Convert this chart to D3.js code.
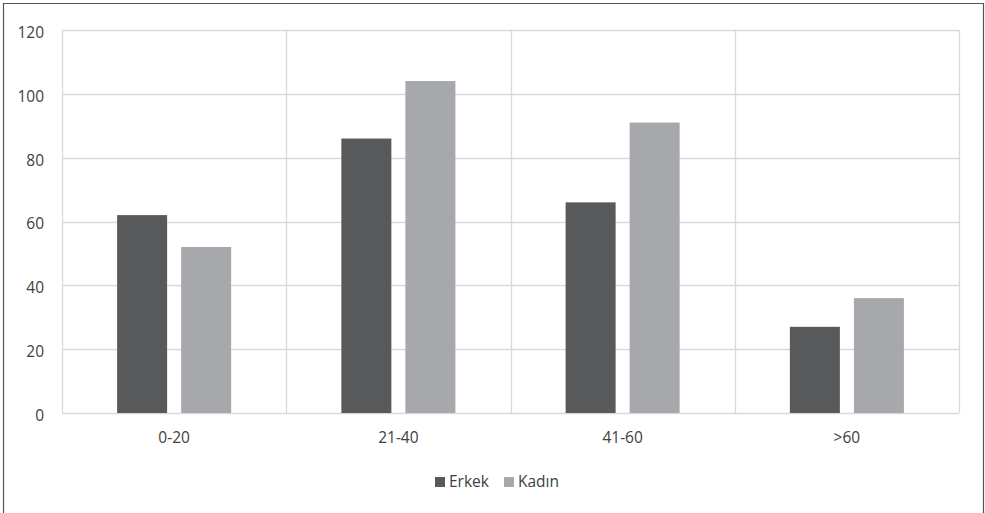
<!DOCTYPE html>
<html><head><meta charset="utf-8">
<script src="https://cdn.jsdelivr.net/npm/d3@7"></script>
<style>body{margin:0;background:#fff}svg{display:block}</style>
</head><body>
<svg id="c" width="985" height="513"></svg>
<script>
const categories = ["0-20", "21-40", "41-60", ">60"];
const seriesNames = ["Erkek", "Kadın"];
const erkek = [62, 86, 66, 27];
const kadin = [52, 104, 91, 36];
const yTicks = [0, 20, 40, 60, 80, 100, 120];
const colors = ["#58595b", "#a7a8ab"];

const svg = d3.select("#c");
const font = "'Open Sans', sans-serif";
const textColor = "#404040";
const fs = 15.5;
const L = 62, R = 959, T = 30, B = 413;

// outer border
svg.append("path").attr("d", "M3.5,520V3.5H983.5V520").attr("fill", "none").attr("stroke", "#555").attr("stroke-width", 1.2);

const x = d3.scaleBand().domain(categories).range([L, R]);
const y = d3.scaleLinear().domain([0, 120]).range([B, T]);

// horizontal gridlines
svg.append("g").selectAll("line").data(yTicks).join("line")
  .attr("x1", L).attr("x2", R)
  .attr("y1", d => Math.round(y(d)) + 0.5).attr("y2", d => Math.round(y(d)) + 0.5)
  .attr("stroke", "#d9d9d9").attr("stroke-width", 1.3);
// vertical gridlines at category boundaries
const bounds = categories.map(c => x(c)).concat([R]);
svg.append("g").selectAll("line").data(bounds).join("line")
  .attr("x1", d => Math.round(d) + 0.5).attr("x2", d => Math.round(d) + 0.5)
  .attr("y1", T).attr("y2", B)
  .attr("stroke", "#d9d9d9").attr("stroke-width", 1.3);

// y axis labels
const yAxis = d3.axisLeft(y).tickValues(yTicks).tickSize(0).tickPadding(0);
const gy = svg.append("g").attr("transform", `translate(${44},2)`).call(yAxis);
gy.select(".domain").remove();
gy.selectAll("text").attr("font-family", font).attr("font-size", fs).attr("fill", textColor).attr("dy", "0.35em");

// x axis labels
const xAxis = d3.axisBottom(x).tickSize(0).tickPadding(0);
const gx = svg.append("g").attr("transform", `translate(0,${438})`).call(xAxis);
gx.select(".domain").remove();
gx.selectAll("text").attr("font-family", font).attr("font-size", fs).attr("fill", textColor).attr("dy", "0.35em");

// bars
const inner = d3.scaleBand().domain(seriesNames).range([0, x.bandwidth()]).paddingInner(0.219).paddingOuter(0.861);
const data = categories.map((c, i) => ({cat: c, vals: [erkek[i], kadin[i]]}));
svg.append("g").selectAll("g").data(data).join("g")
  .attr("transform", d => `translate(${x(d.cat)},0)`)
  .selectAll("rect").data(d => d.vals.map((v, j) => ({s: seriesNames[j], v, j}))).join("rect")
  .attr("x", d => inner(d.s)).attr("width", inner.bandwidth())
  .attr("y", d => y(d.v)).attr("height", d => B - y(d.v))
  .attr("fill", d => colors[d.j]);

// legend
const leg = svg.append("g").attr("transform", "translate(435,482)");
const items = [{n: seriesNames[0], c: colors[0], x: 0}, {n: seriesNames[1], c: colors[1], x: 69}];
const li = leg.selectAll("g").data(items).join("g").attr("transform", d => `translate(${d.x},0)`);
li.append("rect").attr("x", 0).attr("y", -5).attr("width", 10).attr("height", 10).attr("fill", d => d.c);
li.append("text").attr("x", 14).attr("y", 0).attr("dy", "0.35em")
  .attr("font-family", font).attr("font-size", fs).attr("fill", textColor).text(d => d.n);
</script>
</body></html>
